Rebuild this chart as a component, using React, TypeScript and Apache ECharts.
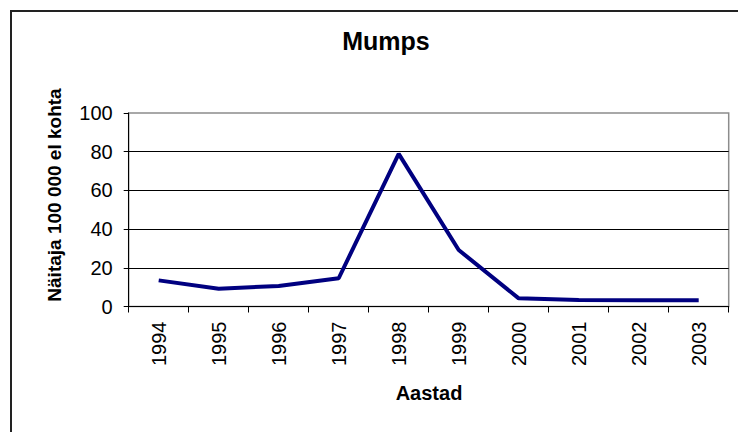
import React, { useEffect, useRef } from "react";
import * as echarts from "echarts";

const years = ["1994", "1995", "1996", "1997", "1998", "1999", "2000", "2001", "2002", "2003"];
const mumps = [13.5, 9.2, 10.6, 14.6, 78.9, 29.2, 4.2, 3.3, 3.2, 3.2];
const yTicks = { min: 0, max: 100, interval: 20 };

const FONT = "'Liberation Sans', Arial, sans-serif";

export default function App() {
  const ref = useRef<HTMLDivElement>(null);
  useEffect(() => {
    document.body.style.margin = "0";
    const chart = echarts.init(ref.current!, null, { renderer: "svg" });
    chart.setOption({
      animation: false,
      backgroundColor: "#ffffff",
      textStyle: { fontFamily: FONT },
      title: {
        text: "Mumps",
        left: 381,
        top: 23,
        textAlign: "center",
        textStyle: { fontFamily: FONT, fontWeight: "bold", fontSize: 25, color: "#000" },
      },
      graphic: [
        {
          type: "rect",
          shape: { x: 11, y: 11, width: 1000, height: 1000 },
          style: { fill: "none", stroke: "#222", lineWidth: 2 },
          silent: true,
          z: 100,
        },
        {
          type: "text",
          x: 54,
          y: 195,
          rotation: Math.PI / 2,
          style: {
            text: "Näitaja 100 000 el kohta",
            font: `bold 19px ${FONT}`,
            fill: "#000",
            align: "center",
            verticalAlign: "middle",
          },
        },
        {
          type: "text",
          x: 429,
          y: 393,
          style: {
            text: "Aastad",
            font: `bold 20px ${FONT}`,
            fill: "#000",
            align: "center",
            verticalAlign: "middle",
          },
        },
      ],
      grid: {
        left: 128.7,
        top: 113,
        width: 600,
        height: 193.5,
        show: true,
        borderColor: "#8c8c8c",
        borderWidth: 1.5,
        backgroundColor: "#ffffff",
      },
      xAxis: {
        type: "category",
        data: years,
        boundaryGap: true,
        axisLine: { show: true, lineStyle: { color: "#000", width: 1 } },
        axisTick: { show: true, length: 6, lineStyle: { color: "#000" } },
        axisLabel: {
          rotate: 90,
          margin: 15,
          fontSize: 20,
          fontFamily: FONT,
          color: "#000",
        },
        splitLine: { show: false },
      },
      yAxis: {
        type: "value",
        min: yTicks.min,
        max: yTicks.max,
        interval: yTicks.interval,
        axisLine: { show: true, lineStyle: { color: "#000", width: 1 } },
        axisTick: { show: true, length: 5, lineStyle: { color: "#000" } },
        axisLabel: { margin: 16, fontSize: 20, fontFamily: FONT, color: "#000" },
        splitLine: {
          show: true,
          showMinLine: false,
          showMaxLine: false,
          lineStyle: { color: "#000", width: 1 },
        },
      },
      series: [
        {
          type: "line",
          data: mumps,
          showSymbol: false,
          symbol: "none",
          lineStyle: { color: "#000080", width: 4 },
          itemStyle: { color: "#000080" },
        },
      ],
    });
    return () => chart.dispose();
  }, []);
  return <div ref={ref} style={{ width: 738, height: 432 }} />;
}
